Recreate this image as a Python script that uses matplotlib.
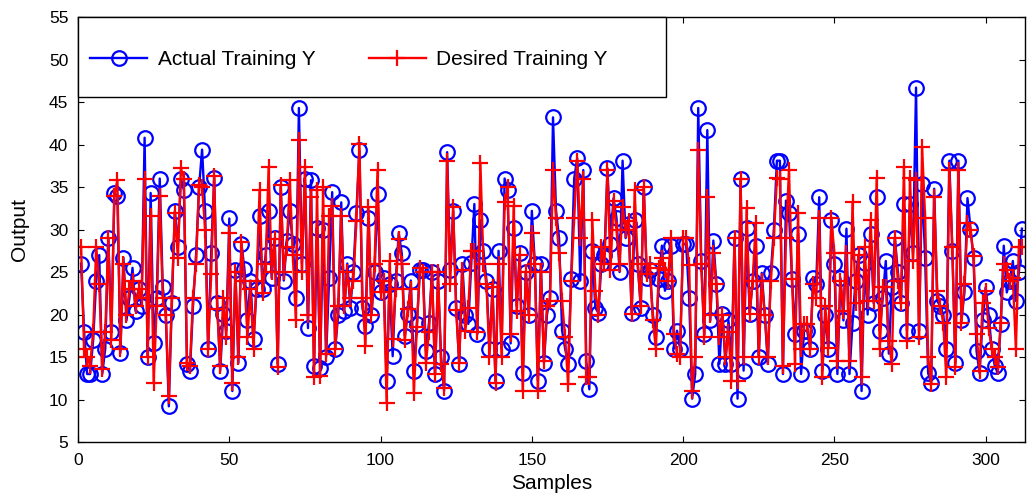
#
#   Actual vs desired training output per sample.
#

import matplotlib

matplotlib.use("Agg")
from matplotlib.patches import Rectangle
import matplotlib.pyplot as plt
import numpy as np

# values, samples 1..312
actual_y = [
    26, 18, 13, 13, 17, 24, 27, 13, 16, 29,
    18, 34.3, 34, 15.5, 26.7, 19.3, 22, 25.5, 20.4, 23,
    21, 40.8, 15, 34.3, 16.6, 22, 36, 23.2, 20, 9.2,
    21.3, 32.2, 28, 36, 34.6, 14.2, 13.4, 21, 27, 35,
    39.4, 32.2, 16, 27.2, 36.1, 21.3, 13.4, 20.1, 18.1, 31.3,
    11, 25.2, 14.3, 28.3, 25.4, 19.3, 24, 17.1, 23, 31.6,
    23, 27, 32.2, 24.3, 29, 14.2, 35, 24, 28.7, 32.2,
    28.3, 22, 44.3, 26, 36, 18.4, 35.8, 14, 30.2, 13.7,
    29.9, 15, 24.3, 34.4, 16, 20, 33.2, 20.4, 26, 20.8,
    25, 32, 39.3, 20.8, 18.7, 31.4, 20, 25, 34.2, 22.6,
    24.3, 12.2, 23.6, 15.1, 24, 29.6, 27.2, 17.5, 20.1, 24,
    13.3, 18.9, 25.2, 25.2, 15.7, 19, 25, 13, 24, 15,
    11, 39.1, 25.2, 32.2, 20.8, 14.2, 26, 20, 18.9, 26.1,
    33, 17.7, 31.1, 27.5, 24, 16, 23, 12.2, 27.5, 16,
    36, 34.6, 16.6, 30.2, 21, 27.2, 13.1, 25, 20, 32.2,
    26, 12.2, 26, 14.3, 20, 22, 43.2, 32.2, 29, 18.1,
    16, 14.2, 24.2, 36, 38.4, 24, 37, 14.5, 11.2, 27.5,
    20.8, 20.2, 26, 27, 37.2, 28.3, 33.7, 31.3, 25, 38.1,
    29, 30.7, 20.2, 31.1, 26, 20.8, 35, 24.3, 25.2, 20,
    17.3, 24.2, 28.1, 22.8, 24, 28.1, 16, 18.1, 16, 28.3,
    28.3, 22, 10.1, 13, 44.3, 26.3, 17.7, 41.7, 19.3, 28.7,
    23.6, 14.2, 20.1, 14.2, 19.3, 14.2, 29, 10.1, 36, 13.4,
    30.2, 20.1, 24, 28.1, 15, 24.9, 20, 14.2, 24.9, 30,
    38.1, 38.1, 13, 33.4, 32, 24.2, 17.7, 29.5, 13, 18.1,
    18.1, 16, 24.3, 23.6, 33.8, 13.4, 20, 16, 31.1, 26,
    13, 24.3, 19.3, 30.1, 13, 19, 24, 27, 11, 26.1,
    20, 29.5, 21.3, 33.8, 18.1, 22, 26.3, 15.4, 23.2, 29,
    25, 21.3, 33, 18.1, 33, 27.2, 46.7, 18.1, 35.4, 26.7,
    13.1, 12, 34.8, 21.6, 21, 20, 16, 38.1, 27.5, 14.3,
    38.1, 19.3, 22.6, 33.7, 30.1, 26.6, 15.7, 13.1, 19.3, 23.2,
    20, 16, 14, 13.1, 18.9, 28.1, 22.6, 24, 26.3, 21.6, 25, 30.1,
]

desired_y = [
    28, 16, 15, 14, 18, 28, 23.6, 13.6, 18, 29,
    17, 34, 35.8, 16, 26, 20, 23, 24, 21, 23,
    22, 36, 15, 31.6, 12, 21, 34, 22, 20, 10.4,
    22, 32, 26.7, 37.2, 36, 14.3, 14, 22, 26, 35.2,
    35, 30, 16, 24.8, 36.3, 20.7, 14, 22, 17.4, 29.6,
    12, 25, 15, 28.5, 24, 17.4, 23, 16, 24, 34.6,
    22.5, 26, 37.3, 25, 28.9, 13.8, 35.2, 25, 28, 35.8,
    27, 19.3, 40.5, 25, 37.3, 20, 33.8, 12.6, 34.6, 12.8,
    35, 15.4, 31.6, 32.8, 16, 21, 31.6, 21, 25, 22,
    24, 31, 40.1, 22, 16.3, 32.6, 20, 26, 37, 22.6,
    24, 9.6, 26.3, 17.1, 23, 28.9, 26, 17, 20.7, 23,
    10.8, 18.5, 25.5, 25, 14.3, 18, 25, 13, 25, 14.2,
    11.4, 38.1, 23.6, 32.6, 20.5, 14.3, 25.2, 18.1, 20.8, 27.5,
    27.5, 18, 37.8, 26, 23.6, 15, 23.2, 12, 26, 15,
    33.2, 35, 17.7, 32.8, 20.4, 27, 11, 25, 20, 29.6,
    26, 11, 25, 14.5, 21, 21.6, 37, 31.4, 27.2, 21.6,
    17.3, 11.8, 24, 31.4, 38.1, 29, 36, 12.6, 12.6, 31.1,
    22.8, 20, 27.9, 26, 37, 25.2, 33.4, 29.9, 26, 32.6,
    30, 31, 20.1, 34.6, 26, 21, 35, 24.8, 26, 19.3,
    16, 25.5, 26.7, 25.2, 24, 29, 17.7, 15.4, 15, 29,
    29, 25.8, 11, 15, 39.3, 26, 17.3, 33.8, 20, 27.2,
    23.6, 17.3, 20, 15, 18, 12.2, 29, 12.2, 36, 15,
    32.5, 20.1, 24, 30.8, 15, 24, 20, 15, 24, 29,
    36.1, 36, 14, 29, 37, 24.2, 14.2, 31.9, 16, 18.9,
    18.9, 16, 23.6, 22, 31.4, 12.6, 21, 16.1, 31.4, 27.2,
    14.5, 24, 20.4, 27.2, 14.5, 33.2, 21.3, 27, 12.6, 27.9,
    21.6, 31.1, 21.6, 36.1, 16, 23.2, 23.2, 16.9, 14.2, 29,
    24, 21.3, 37.3, 16.9, 36.1, 26.3, 35.8, 17.3, 39.7, 31.4,
    15, 11.8, 33.8, 22.8, 21, 19, 12.6, 37, 27.9, 13.8,
    37, 19, 23.6, 30.8, 30, 26.9, 17.7, 13.4, 21.3, 22.8,
    18.4, 16, 15, 13.8, 19, 26, 25.2, 24, 24.3, 16, 27.9, 27.9,
]

x_ticks = [0, 50, 100, 150, 200, 250, 300]
y_ticks = [5, 10, 15, 20, 25, 30, 35, 40, 45, 50, 55]


def use_custom_matplotlib_formatting():
    matplotlib.rcParams["font.family"] = ["Liberation Sans", "DejaVu Sans"]
    matplotlib.rcParams["font.size"] = 12.5
    matplotlib.rcParams["axes.linewidth"] = 1.0
    matplotlib.rcParams["xtick.direction"] = "in"
    matplotlib.rcParams["ytick.direction"] = "in"
    matplotlib.rcParams["xtick.top"] = True
    matplotlib.rcParams["ytick.right"] = True
    matplotlib.rcParams["xtick.major.size"] = 4
    matplotlib.rcParams["ytick.major.size"] = 4


def main():
    use_custom_matplotlib_formatting()

    samples = np.arange(1, len(actual_y) + 1)

    fig = plt.figure(figsize=(10.27, 4.98), dpi=100)
    ax = fig.add_axes([0.076, 0.1124, 0.922, 0.8534])

    ax.plot(
        samples,
        actual_y,
        color="#0000ff",
        lw=1.7,
        marker="o",
        ms=10.5,
        mfc="none",
        mew=1.6,
        label="Actual Training Y",
    )
    ax.plot(
        samples[: len(desired_y)],
        desired_y,
        color="#ff0000",
        lw=1.7,
        marker="+",
        ms=12,
        mew=1.6,
        label="Desired Training Y",
    )

    ax.set_xlim(0, 313)
    ax.set_ylim(5, 55)
    ax.set_xticks(x_ticks)
    ax.set_yticks(y_ticks)
    ax.tick_params(axis="x", pad=8)
    ax.tick_params(axis="y", pad=7)

    ax.set_xlabel("Samples", fontsize=15, labelpad=4)
    ax.set_ylabel("Output", fontsize=15, labelpad=14)

    # legend box drawn by hand, the MATLAB-style box is wider on the right
    box = Rectangle(
        (0.0, 0.812),
        0.621,
        0.188,
        transform=ax.transAxes,
        facecolor="white",
        edgecolor="black",
        lw=1.0,
        zorder=5,
        clip_on=False,
    )
    ax.add_patch(box)

    leg = ax.legend(
        loc="center left",
        bbox_to_anchor=(0.0127, 0.9),
        ncol=2,
        frameon=False,
        fontsize=15,
        borderaxespad=0.0,
        borderpad=0.0,
        handlelength=2.75,
        handletextpad=0.5,
        columnspacing=2.55,
    )
    leg.set_zorder(6)

    fig.savefig("out.png", dpi=100)


if __name__ == "__main__":
    main()
